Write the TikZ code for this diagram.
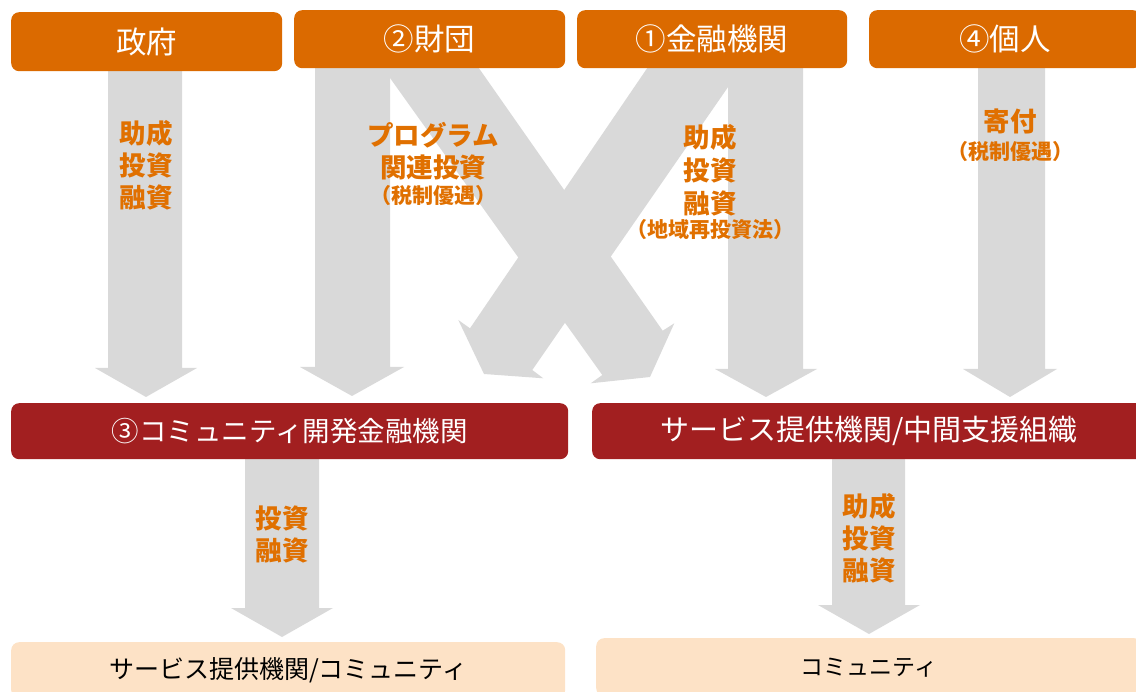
\documentclass[tikz,border=0pt]{standalone}
\usepackage{fontspec}
\setmainfont{Noto Sans CJK JP}
\definecolor{topor}{RGB}{219,106,0}
\definecolor{midred}{RGB}{162,31,32}
\definecolor{peach}{RGB}{253,226,198}
\definecolor{arrowgray}{RGB}{217,217,217}
\definecolor{lblor}{RGB}{224,112,0}
\tikzset{
  box/.style={rounded corners=8pt, inner sep=0pt, anchor=north west},
  topbox/.style={box, fill=topor, text=white, font=\fontsize{30.5}{33}\selectfont},
  midbox/.style={box, fill=midred, text=white, font=\fontsize{27.5}{30}\selectfont},
  botbox/.style={box, fill=peach, text=black, font=\fontsize{25}{28}\selectfont},
  garrow/.style={fill=arrowgray},
  lbl/.style={text=lblor, align=center, inner sep=0pt, font=\bfseries\fontsize{26.5}{32}\selectfont},
  lblsmall/.style={text=lblor, align=center, inner sep=0pt, font=\bfseries\fontsize{21}{24}\selectfont},
}
\begin{document}
\begin{tikzpicture}[x=1pt,y=-1pt]
\useasboundingbox (0,0) rectangle (1136,692);
% gray block arrows
\fill[garrow] (108,64) -- (182,64) -- (182,368) -- (197,368) -- (146,397) -- (95,368) -- (108,368) -- cycle;
\fill[garrow] (315,64) -- (390,64) -- (390,367) -- (404,367) -- (352,396) -- (300,367) -- (315,367) -- cycle;
\fill[garrow] (728,64) -- (803,64) -- (803,369) -- (817,369) -- (766,397) -- (715,369) -- (728,369) -- cycle;
\fill[garrow] (978,64) -- (1045,64) -- (1045,369) -- (1057,369) -- (1010,397) -- (963,369) -- (978,369) -- cycle;
\fill[garrow] (245,455) -- (319,455) -- (319,608) -- (333,608) -- (282,637) -- (231,608) -- (245,608) -- cycle;
\fill[garrow] (832,455) -- (905,455) -- (905,605) -- (920,605) -- (869,634) -- (818,605) -- (832,605) -- cycle;
% crossing diagonal arrows
\fill[garrow] (380,64) -- (476,64) -- (662.7,330.7) -- (674.3,323.3) -- (650,377) -- (590.7,383.3) -- (602.3,375) -- cycle;
\fill[garrow] (650,64) -- (744,64) -- (532.3,370) -- (543.3,378.3) -- (484,374) -- (458.3,320) -- (470,328.3) -- cycle;
% boxes
\node[topbox, minimum width=271pt, minimum height=59pt] (gov) at (11,12) {政府};
\node[topbox, minimum width=271pt, minimum height=58pt] (fdn) at (294,10) {②財団};
\node[topbox, minimum width=270pt, minimum height=58pt] (fin) at (577,10) {①金融機関};
\node[topbox, minimum width=272pt, minimum height=58pt] (ind) at (869,10) {④個人};
\node[midbox, minimum width=557pt, minimum height=56pt] (cdfi) at (11,403) {③コミュニティ開発金融機関};
\node[midbox, minimum width=554pt, minimum height=56pt, font=\fontsize{29}{31}\selectfont] (svc) at (592,403) {サービス提供機関/中間支援組織};
\node[botbox, minimum width=554pt, minimum height=56pt] (comm1) at (11,642) {サービス提供機関/コミュニティ};
\node[botbox, minimum width=546pt, minimum height=58pt, font=\fontsize{23}{26}\selectfont] (comm2) at (596,638) {コミュニティ};
% labels
\node[lbl] (l1) at (146,165) {助成\\投資\\融資};
\node[lbl] (l2) at (433,151.5) {プログラム\\関連投資};
\node[lblsmall] (l2p) at (433,196) {（税制優遇）};
\node[lbl, font=\bfseries\fontsize{26.5}{33}\selectfont] (l3) at (710,170) {助成\\投資\\融資};
\node[lblsmall] (l3p) at (710,230) {（地域再投資法）};
\node[lbl] (l4) at (1010,121) {寄付};
\node[lblsmall] (l4p) at (1010,152) {（税制優遇）};
\node[lbl] (l5) at (282,534) {投資\\融資};
\node[lbl] (l6) at (869,538) {助成\\投資\\融資};
\end{tikzpicture}
\end{document}
